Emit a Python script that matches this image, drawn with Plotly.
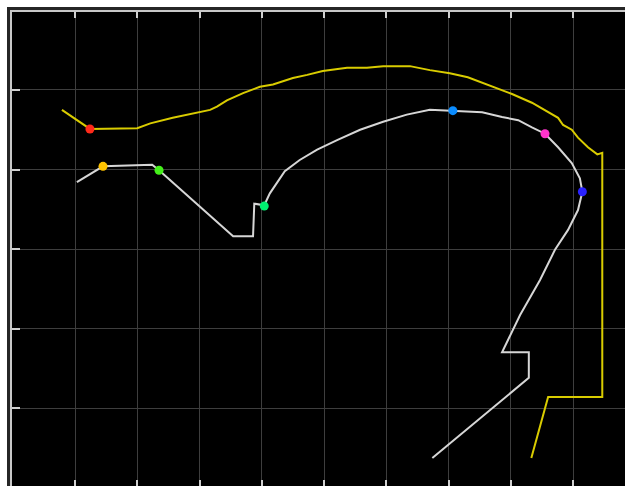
import plotly.graph_objects as go

# Yellow (outer) stroke, grid units
yellow_x = [0.79, 1.24, 2.00, 2.21, 2.57, 2.90, 3.17, 3.28, 3.44, 3.70, 3.97, 4.18, 4.50, 4.73,
            4.98, 5.37, 5.69, 5.95, 6.38, 6.70, 7.02, 7.31, 7.70, 8.02, 8.34, 8.55, 8.76, 8.84,
            8.98, 9.08, 9.24, 9.39, 9.47, 9.47, 8.60, 8.33]
yellow_y = [1.25, 1.49, 1.48, 1.42, 1.35, 1.30, 1.25, 1.21, 1.13, 1.04, 0.96, 0.93, 0.85, 0.81,
            0.76, 0.72, 0.72, 0.70, 0.70, 0.75, 0.79, 0.84, 0.95, 1.05, 1.16, 1.26, 1.35, 1.44,
            1.50, 1.60, 1.72, 1.81, 1.79, 4.86, 4.86, 5.63]

# White (inner) stroke, grid units
white_x = [1.03, 1.45, 2.24, 2.35, 3.54, 3.86, 3.88, 4.04, 4.13, 4.37, 4.61, 4.89, 5.21, 5.58,
           5.95, 6.33, 6.70, 7.07, 7.54, 7.86, 8.12, 8.34, 8.55, 8.76, 8.98, 9.11, 9.15, 9.08,
           8.92, 8.71, 8.47, 8.15, 7.86, 8.29, 8.29, 6.74]
white_y = [2.16, 1.96, 1.94, 2.01, 2.84, 2.84, 2.43, 2.45, 2.30, 2.02, 1.88, 1.75, 1.63, 1.50,
           1.40, 1.31, 1.25, 1.26, 1.28, 1.34, 1.38, 1.47, 1.55, 1.72, 1.92, 2.11, 2.28, 2.51,
           2.76, 3.01, 3.39, 3.83, 4.30, 4.30, 4.62, 5.63]

# Marked points
marker_x = [1.24, 1.45, 2.35, 4.04, 7.07, 8.55, 9.15]
marker_y = [1.49, 1.96, 2.01, 2.46, 1.26, 1.55, 2.28]
marker_colors = ["#ff2a1a", "#ffc400", "#44f01a", "#00f070", "#0a8cff", "#ff33cc", "#2a22ff"]

X_RANGE = [-0.012, 9.835]
Y_RANGE = [5.981, 0.019]

fig = go.Figure()
fig.add_trace(go.Scatter(x=yellow_x, y=yellow_y, mode="lines",
                         line=dict(color="#d9cc00", width=2), hoverinfo="skip"))
fig.add_trace(go.Scatter(x=white_x, y=white_y, mode="lines",
                         line=dict(color="#d6d6d6", width=2), hoverinfo="skip"))
fig.add_trace(go.Scatter(x=marker_x, y=marker_y, mode="markers",
                         marker=dict(color=marker_colors, size=9, line=dict(width=0)),
                         hoverinfo="skip"))
# empty trace to anchor the bottom tick axis
fig.add_trace(go.Scatter(x=[None], y=[None], xaxis="x2", mode="markers",
                         hoverinfo="skip"))

W, H, L, T = 625, 486, 12, 12
pw, ph = W - L, H - T

fig.update_layout(
    width=W, height=H,
    margin=dict(l=L, r=0, t=T, b=0, pad=0),
    paper_bgcolor="white", plot_bgcolor="black",
    showlegend=False,
    shapes=[dict(type="rect", xref="paper", yref="paper",
                 x0=-3.5 / pw, x1=1.5, y0=-0.5, y1=1 + 3.5 / ph,
                 line=dict(color="#262626", width=3), fillcolor="rgba(0,0,0,0)",
                 layer="above")],
    xaxis=dict(side="top", range=X_RANGE, tick0=0, dtick=1,
               showticklabels=False, ticks="inside", ticklen=6, tickwidth=2,
               tickcolor="#d0d0d0", showline=True, linecolor="#c8c8c8", linewidth=2,
               showgrid=True, gridcolor="#3e3e3e", gridwidth=1, zeroline=False),
    xaxis2=dict(side="bottom", overlaying="x", anchor="y", range=X_RANGE, tick0=0, dtick=1,
                showticklabels=False, ticks="inside", ticklen=6, tickwidth=2,
                tickcolor="#d0d0d0", showline=False, showgrid=False, zeroline=False),
    yaxis=dict(range=Y_RANGE, tick0=0, dtick=1,
               showticklabels=False, ticks="inside", ticklen=8, tickwidth=2,
               tickcolor="#d0d0d0", showline=True, linecolor="#c8c8c8", linewidth=2,
               showgrid=True, gridcolor="#3e3e3e", gridwidth=1, zeroline=False),
)

fig.write_html("out.html")
